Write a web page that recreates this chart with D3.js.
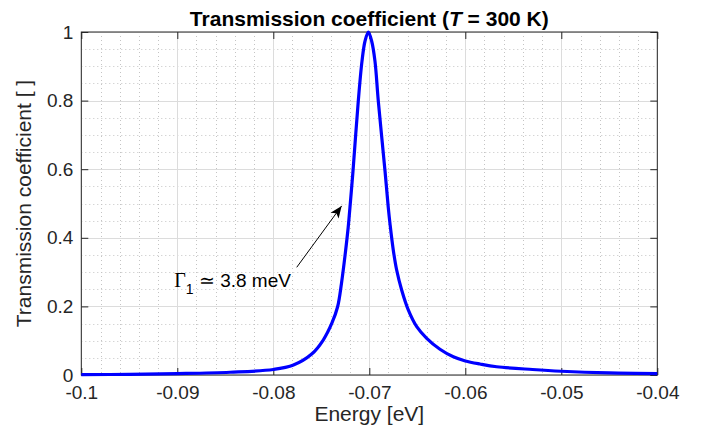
<!DOCTYPE html>
<html>
<head>
<meta charset="utf-8">
<script src="https://cdn.jsdelivr.net/npm/d3@7"></script>
<style>
    body { margin: 0; background: #ffffff; }
</style>
</head>
<body>
<div id="canvas"></div>
<script>
"use strict";

/**** DATA ****/
let energy = [-0.1, -0.095, -0.09, -0.0845, -0.08, -0.0779, -0.076, -0.0748, -0.0739, -0.0733,
    -0.0729, -0.0725, -0.0722, -0.07195, -0.0717, -0.07115, -0.07076, -0.07045, -0.0701, -0.06975,
    -0.06941, -0.06906, -0.06836, -0.06802, -0.06784, -0.0675, -0.06715, -0.06663, -0.06594, -0.06506,
    -0.06402, -0.06264, -0.06125, -0.06, -0.05847, -0.05673, -0.053, -0.05, -0.045, -0.04];
let transmission = [0.001, 0.002, 0.004, 0.008, 0.016, 0.029, 0.061, 0.102, 0.151, 0.199,
    0.267, 0.355, 0.43, 0.51, 0.594, 0.798, 0.915, 0.973, 1, 0.973,
    0.915, 0.798, 0.594, 0.487, 0.44, 0.364, 0.306, 0.248, 0.19, 0.141,
    0.107, 0.075, 0.053, 0.041, 0.032, 0.024, 0.016, 0.011, 0.006, 0.004];

let xTicks = [-0.1, -0.09, -0.08, -0.07, -0.06, -0.05, -0.04];
let xTickLabels = ["-0.1", "-0.09", "-0.08", "-0.07", "-0.06", "-0.05", "-0.04"];
let yTicks = [0, 0.2, 0.4, 0.6, 0.8, 1];
let yTickLabels = ["0", "0.2", "0.4", "0.6", "0.8", "1"];

// annotation: arrow head, arrow tail, text start (data coords)
let arrowHead = [-0.07288, 0.493];
let arrowTail = [-0.07756, 0.314];
let labelPos = [-0.09032, 0.257];

/**** CONFIGURATION ****/
let svgWidth = 717;
let svgHeight = 436;
let plotLeft = 81.3;
let plotRight = 657.3;
let plotTop = 32;
let plotBottom = 375;

let font = "'Liberation Sans', Arial, Helvetica, sans-serif";
let axisColor = "#262626";

let svg = d3.select("#canvas")
    .append("svg")
    .attr("width", svgWidth)
    .attr("height", svgHeight)
    .style("display", "block");

/**** SCALES ****/
let xScale = d3.scaleLinear()
    .domain([-0.1, -0.04])
    .range([plotLeft, plotRight]);

let yScale = d3.scaleLinear()
    .domain([0, 1])
    .range([plotBottom, plotTop]);

/**** MINOR GRID (dotted) ****/
let xMinor = d3.range(-0.1, -0.0399, 0.002).filter(function(v, i) { return i % 5 !== 0; });
let yMinor = d3.range(0, 1.001, 0.05).filter(function(v, i) { return i % 4 !== 0; });

svg.append("g")
    .selectAll("line")
    .data(xMinor)
    .join("line")
    .attr("x1", function(d) { return Math.round(xScale(d)) + 0.5; })
    .attr("x2", function(d) { return Math.round(xScale(d)) + 0.5; })
    .attr("y1", plotTop)
    .attr("y2", plotBottom)
    .attr("stroke", "#c4c4c4")
    .attr("stroke-dasharray", "1,3");

svg.append("g")
    .selectAll("line")
    .data(yMinor)
    .join("line")
    .attr("x1", plotLeft)
    .attr("x2", plotRight)
    .attr("y1", function(d) { return Math.round(yScale(d)) + 0.5; })
    .attr("y2", function(d) { return Math.round(yScale(d)) + 0.5; })
    .attr("stroke", "#c4c4c4")
    .attr("stroke-dasharray", "1,3");

/**** MAJOR GRID ****/
svg.append("g")
    .selectAll("line")
    .data(xTicks)
    .join("line")
    .attr("x1", function(d) { return Math.round(xScale(d)) + 0.5; })
    .attr("x2", function(d) { return Math.round(xScale(d)) + 0.5; })
    .attr("y1", plotTop)
    .attr("y2", plotBottom)
    .attr("stroke", "#dcdcdc");

svg.append("g")
    .selectAll("line")
    .data(yTicks)
    .join("line")
    .attr("x1", plotLeft)
    .attr("x2", plotRight)
    .attr("y1", function(d) { return Math.round(yScale(d)) + 0.5; })
    .attr("y2", function(d) { return Math.round(yScale(d)) + 0.5; })
    .attr("stroke", "#dcdcdc");

/**** AXES (ticks inside, mirrored on top/right) ****/
function styleAxis(g) {
    g.select(".domain").remove();
    g.selectAll(".tick line").attr("stroke", axisColor);
    g.selectAll("text")
        .attr("fill", axisColor)
        .style("font-family", font)
        .style("font-size", "19px");
}

svg.append("g")
    .attr("transform", `translate(0,${plotBottom})`)
    .call(d3.axisBottom(xScale)
        .tickValues(xTicks)
        .tickFormat(function(d, i) { return xTickLabels[i]; })
        .tickSizeInner(-7)
        .tickSizeOuter(0)
        .tickPadding(11))
    .call(styleAxis);

svg.append("g")
    .attr("transform", `translate(0,${plotTop})`)
    .call(d3.axisTop(xScale)
        .tickValues(xTicks)
        .tickFormat("")
        .tickSizeInner(-7)
        .tickSizeOuter(0))
    .call(styleAxis);

svg.append("g")
    .attr("transform", `translate(${plotLeft},0)`)
    .call(d3.axisLeft(yScale)
        .tickValues(yTicks)
        .tickFormat(function(d, i) { return yTickLabels[i]; })
        .tickSizeInner(-7)
        .tickSizeOuter(0)
        .tickPadding(8))
    .call(styleAxis);

svg.append("g")
    .attr("transform", `translate(${plotRight},0)`)
    .call(d3.axisRight(yScale)
        .tickValues(yTicks)
        .tickFormat("")
        .tickSizeInner(-7)
        .tickSizeOuter(0))
    .call(styleAxis);

/**** BOX ****/
svg.append("rect")
    .attr("x", plotLeft)
    .attr("y", plotTop)
    .attr("width", plotRight - plotLeft)
    .attr("height", plotBottom - plotTop)
    .attr("fill", "none")
    .attr("stroke", axisColor);

/**** CURVE ****/
let points = energy.map(function(e, i) { return [e, transmission[i]]; });

let line = d3.line()
    .x(function(d) { return xScale(d[0]); })
    .y(function(d) { return yScale(d[1]); })
    .curve(d3.curveCatmullRom.alpha(0.5));

svg.append("path")
    .datum(points)
    .attr("d", line)
    .attr("fill", "none")
    .attr("stroke", "#0000ff")
    .attr("stroke-width", 3.2)
    .attr("stroke-linejoin", "round");

/**** TITLE + AXIS LABELS ****/
let title = svg.append("text")
    .attr("x", (plotLeft + plotRight) / 2)
    .attr("y", 26)
    .attr("text-anchor", "middle")
    .attr("fill", "#000000")
    .style("font-family", font)
    .style("font-size", "21px")
    .style("font-weight", "bold");
title.append("tspan").text("Transmission coefficient (");
title.append("tspan").style("font-style", "italic").text("T");
title.append("tspan").text(" = 300 K)");

svg.append("text")
    .attr("x", (plotLeft + plotRight) / 2)
    .attr("y", 421)
    .attr("text-anchor", "middle")
    .attr("fill", axisColor)
    .style("font-family", font)
    .style("font-size", "21px")
    .text("Energy [eV]");

svg.append("text")
    .attr("transform", "rotate(-90)")
    .attr("x", -(plotTop + plotBottom) / 2)
    .attr("y", 31)
    .attr("text-anchor", "middle")
    .attr("fill", axisColor)
    .style("font-family", font)
    .style("font-size", "21px")
    .text("Transmission coefficient [ ]");

/**** ANNOTATION ARROW ****/
svg.append("defs")
    .append("marker")
    .attr("id", "head")
    .attr("markerUnits", "userSpaceOnUse")
    .attr("markerWidth", 16)
    .attr("markerHeight", 12)
    .attr("refX", 0)
    .attr("refY", 0)
    .attr("viewBox", "-14 -6 16 12")
    .attr("orient", "auto")
    .append("path")
    .attr("d", "M0,0 L-12,-5 L-9,0 L-12,5 Z")
    .attr("fill", "#000000");

svg.append("line")
    .attr("x1", xScale(arrowTail[0]))
    .attr("y1", yScale(arrowTail[1]))
    .attr("x2", xScale(arrowHead[0]))
    .attr("y2", yScale(arrowHead[1]))
    .attr("stroke", "#000000")
    .attr("stroke-width", 1)
    .attr("marker-end", "url(#head)");

let note = svg.append("text")
    .attr("x", xScale(labelPos[0]))
    .attr("y", yScale(labelPos[1]))
    .attr("fill", "#000000")
    .style("font-family", font)
    .style("font-size", "19px");
note.append("tspan")
    .style("font-family", "'Liberation Serif', 'DejaVu Serif', serif")
    .style("font-size", "20px")
    .text("Γ");
note.append("tspan")
    .attr("dy", 7)
    .style("font-size", "14px")
    .text("1");
note.append("tspan")
    .attr("dy", -7)
    .text(" ≃ 3.8 meV");
</script>
</body>
</html>
